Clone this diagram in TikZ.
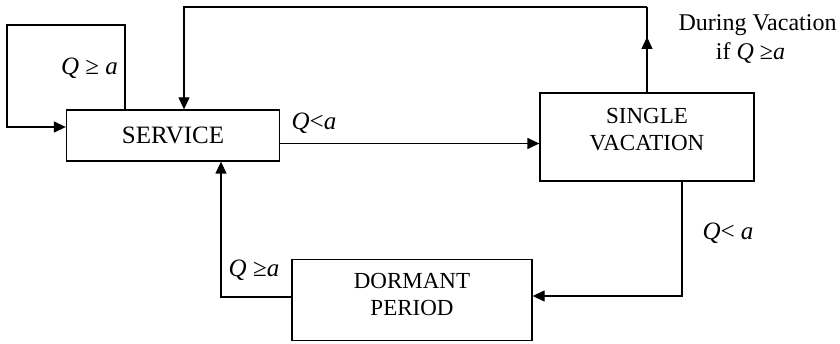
\documentclass[tikz,border=0pt]{standalone}
\usepackage{fontspec}
\setmainfont{Liberation Serif}
\usetikzlibrary{arrows.meta}
\begin{document}
\begin{tikzpicture}[x=1pt,y=-1pt,
  txt/.style={font=\fontsize{23}{27}\selectfont},
  cond/.style={font=\fontsize{25}{29}\selectfont},
  every node/.style={txt},
  box/.style={draw, line width=1.3pt, inner sep=0pt},
  arr/.style={line width=1.3pt, -{Triangle[length=12pt,width=11pt]}},
  ln/.style={line width=1.3pt}]
\useasboundingbox (0,0) rectangle (840,344);

% states
\node[box, minimum width=213pt, minimum height=51pt,
  font=\fontsize{25}{29}\selectfont] (svc) at (173,135.5) {SERVICE};
\node[box, minimum width=214pt, minimum height=88pt,
  label={[align=center, yshift=7pt, txt]center:SINGLE\\VACATION}] (sv) at (647,137) {};
\node[box, minimum width=240pt, minimum height=81pt,
  label={[align=center, yshift=6pt, txt]center:DORMANT\\PERIOD}] (dor) at (412,300.3) {};

% routing points
\coordinate (c1) at (125,25);
\coordinate (c2) at (7,127);
\coordinate (tm) at (647,37);
\coordinate (t1) at (647,7);
\coordinate (t2) at (184,7);
\coordinate (h) at (0,143.5);
\coordinate (d1) at (682,296);
\coordinate (d2) at (221,297);

% self loop on SERVICE
\draw[arr] (svc.north -| c1) -- (c1) -- (c2 |- c1) -- (c2) -- (c2 -| svc.west);
% return from SINGLE VACATION to SERVICE
\draw[ln] (sv.north) -- (t1);
\draw[arr] (sv.north) -- (tm);
\draw[arr] (t1) -- (t2) -- (t2 |- svc.north);
% SERVICE to SINGLE VACATION
\draw[arr] (svc.east |- h) -- (sv.west |- h);
% SINGLE VACATION to DORMANT PERIOD
\draw[arr] (sv.south -| d1) -- (d1) -- (dor.east |- d1);
% DORMANT PERIOD to SERVICE
\draw[arr] (dor.west |- d2) -- (d2) -- (d2 |- svc.south);

% conditions
\node[cond] at (89.5,68) {\textit{Q} ≥ \textit{a}};
\node[cond] at (314,123) {\textit{Q}<\textit{a}};
\node[cond] at (728,233) {\textit{Q}< \textit{a}};
\node[cond] at (254,270) {\textit{Q} ≥\textit{a}};
\node[font=\fontsize{24}{28}\selectfont] at (757.5,25) {During Vacation};
\node[font=\fontsize{24}{28}\selectfont] at (750.5,53) {if \textit{Q} ≥\textit{a}};
\end{tikzpicture}
\end{document}
